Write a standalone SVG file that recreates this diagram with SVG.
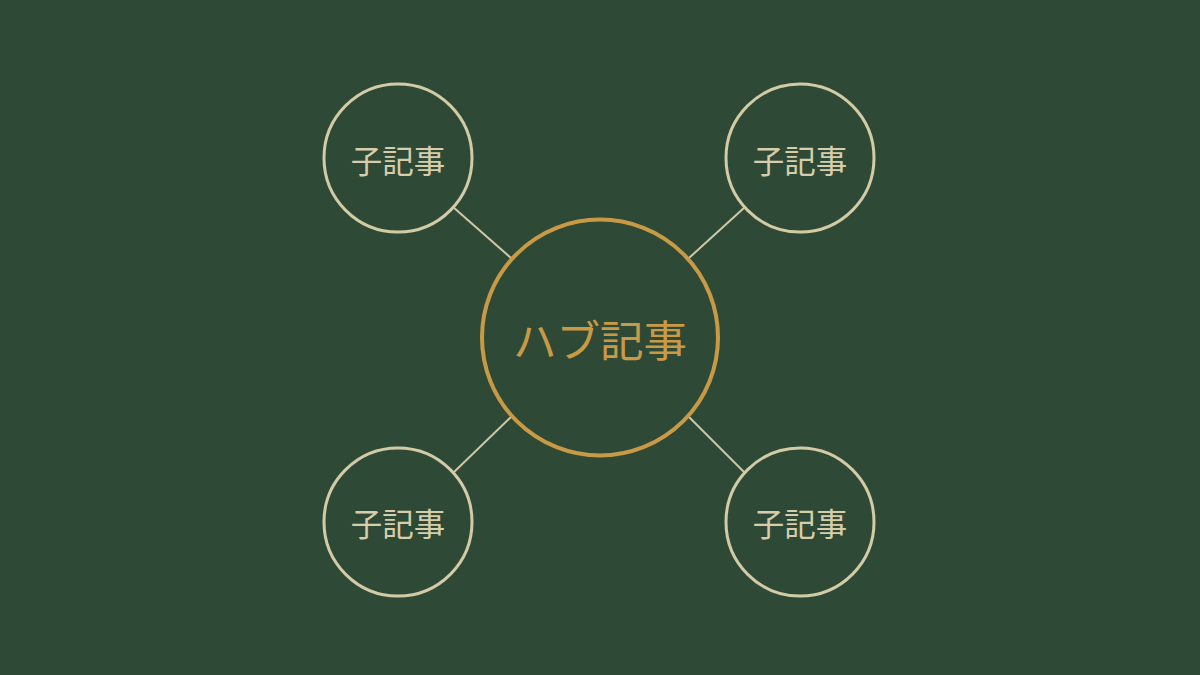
<svg xmlns="http://www.w3.org/2000/svg" width="1200" height="675" viewBox="0 0 1200 675">
<style>
.child circle{fill:none;stroke:#d3cba6;stroke-width:3}
.child text{fill:#d6cdab;font-family:"Noto Sans CJK JP","Noto Sans",sans-serif;font-size:31.5px;text-anchor:middle;dominant-baseline:central}
.hub circle{fill:none;stroke:#c99a45;stroke-width:4}
.hub text{fill:#c99a45;font-family:"Noto Sans CJK JP","Noto Sans",sans-serif;font-size:43.5px;text-anchor:middle;dominant-baseline:central}
.conn line{stroke:#cfc8a4;stroke-width:2}
</style>
<rect width="1200" height="675" fill="#2e4a37"/>
<g id="connectors" class="conn">
<line x1="453" y1="207" x2="511" y2="258"/>
<line x1="745" y1="207" x2="689" y2="258"/>
<line x1="453" y1="473" x2="511" y2="417"/>
<line x1="745" y1="473" x2="689" y2="417"/>
</g>
<g id="hub" class="hub">
<circle cx="600" cy="337.5" r="118"/>
<text x="600" y="338">ハブ記事</text>
</g>
<g id="child-tl" class="child">
<circle cx="398" cy="158" r="74"/>
<text x="398" y="159">子記事</text>
</g>
<g id="child-tr" class="child">
<circle cx="800" cy="158" r="74"/>
<text x="800" y="159">子記事</text>
</g>
<g id="child-bl" class="child">
<circle cx="398" cy="522" r="74"/>
<text x="398" y="522">子記事</text>
</g>
<g id="child-br" class="child">
<circle cx="800" cy="522" r="74"/>
<text x="800" y="522">子記事</text>
</g>
</svg>
